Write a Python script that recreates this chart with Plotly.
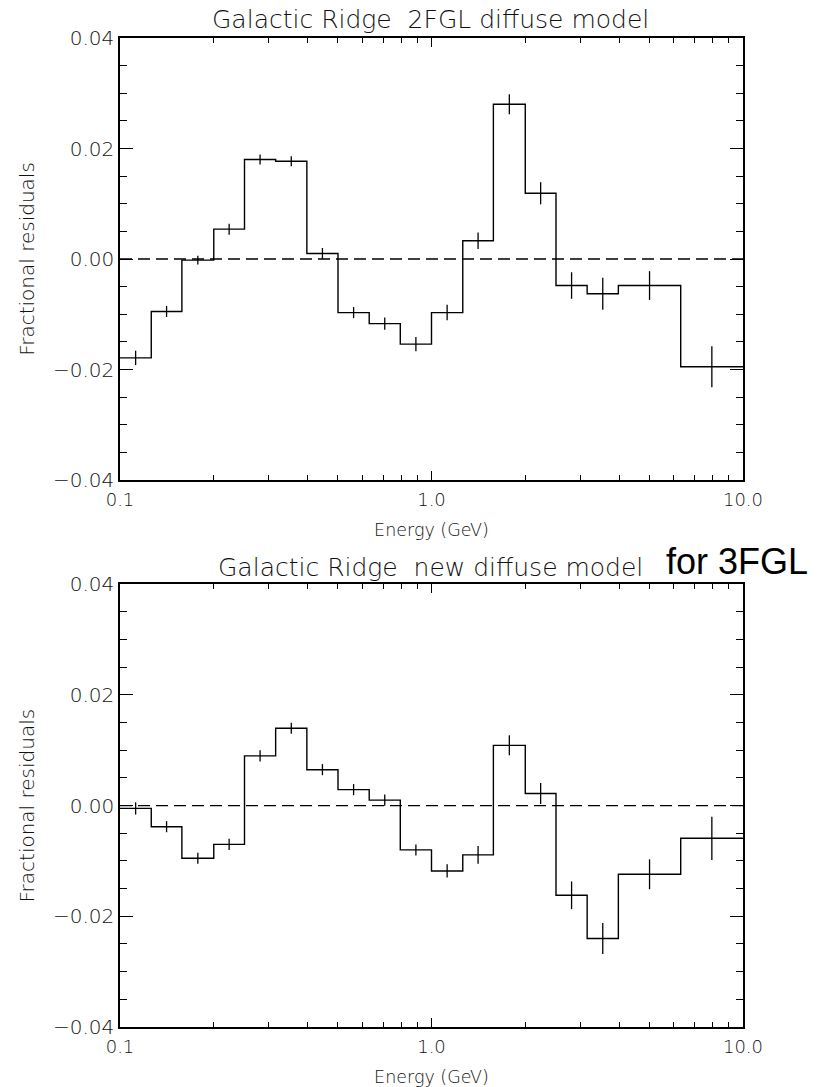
import numpy as np
import plotly.graph_objects as go

# ---------------- data ----------------
bin_edges_gev = [0.1, 0.126, 0.158, 0.2, 0.251, 0.316, 0.398, 0.501, 0.631, 0.794,
                 1.0, 1.26, 1.58, 2.0, 2.51, 3.16, 3.98, 6.31, 10.0]

top_residuals = [-0.0179, -0.0095, -0.0002, 0.0054, 0.0180, 0.0177, 0.0010, -0.0097,
                 -0.0117, -0.0154, -0.0097, 0.0033, 0.0280, 0.0119, -0.0048, -0.0063,
                 -0.0048, -0.0195]
top_errors = [0.0013, 0.0010, 0.0008, 0.0010, 0.0009, 0.0009, 0.0010, 0.0010, 0.0011,
              0.0013, 0.0014, 0.0015, 0.0018, 0.0020, 0.0024, 0.0029, 0.0026, 0.0037]

bottom_residuals = [-0.0005, -0.0038, -0.0095, -0.0070, 0.0090, 0.0140, 0.0065, 0.0029,
                    0.0010, -0.0080, -0.0118, -0.0089, 0.0109, 0.0022, -0.0162, -0.0240,
                    -0.0124, -0.0059]
bottom_errors = [0.0011, 0.0010, 0.0010, 0.0010, 0.0010, 0.0010, 0.0010, 0.0010, 0.0010,
                 0.0010, 0.0012, 0.0016, 0.0018, 0.0019, 0.0025, 0.0028, 0.0027, 0.0039]

x_tick_values = [0.1, 1.0, 10.0]
x_tick_labels = ["0.1", "1.0", "10.0"]
x_minor_values = [0.2, 0.3, 0.4, 0.5, 0.6, 0.7, 0.8, 0.9, 2, 3, 4, 5, 6, 7, 8, 9]
y_tick_values = [-0.04, -0.02, 0.0, 0.02, 0.04]
y_tick_labels = ["\u22120.04", "\u22120.02", "0.00", "0.02", "0.04"]
y_minor_values = [-0.035, -0.03, -0.025, -0.015, -0.01, -0.005,
                  0.005, 0.01, 0.015, 0.025, 0.03, 0.035]

title_top = "Galactic Ridge \u00a02FGL diffuse model"
title_bottom = "Galactic Ridge \u00a0new diffuse model"
title_extra = "for 3FGL"
x_title = "Energy (GeV)"
y_title = "Fractional residuals"

# ---------------- figure ----------------
W, H = 827, 1087
FONT = "DejaVu Sans"
TXT = "#111111"
centers = [float(np.sqrt(a * b)) for a, b in zip(bin_edges_gev[:-1], bin_edges_gev[1:])]

fig = go.Figure()


def add_panel(res, err, xa, ya):
    fig.add_trace(go.Scatter(
        x=bin_edges_gev, y=list(res) + [res[-1]], mode="lines", line_shape="hv",
        line=dict(color="black", width=1.4), xaxis=xa, yaxis=ya, showlegend=False,
        hoverinfo="skip"))
    fig.add_trace(go.Scatter(
        x=centers, y=res, mode="markers", marker=dict(size=0.1, color="black"),
        error_y=dict(type="data", array=err, visible=True, color="black",
                     thickness=1.3, width=0),
        xaxis=xa, yaxis=ya, showlegend=False))


add_panel(top_residuals, top_errors, "x", "y")
add_panel(bottom_residuals, bottom_errors, "x2", "y2")

x0p, x1p = 120 / W, 743 / W
top_dom = [1 - 480 / H, 1 - 38 / H]
bot_dom = [1 - 1027 / H, 1 - 584.3 / H]


def xaxis(anchor, domain):
    return dict(
        type="log", range=[-1, 1], domain=domain, anchor=anchor, automargin=False,
        tickmode="array", tickvals=x_tick_values, ticktext=x_tick_labels,
        ticks="inside", ticklen=9, tickwidth=1.3, tickcolor="black",
        showline=True, linecolor="black", linewidth=1.5, mirror="ticks",
        showgrid=False, zeroline=False, ticklabelstandoff=3,
        minor=dict(tickmode="array", tickvals=x_minor_values, ticks="inside",
                   ticklen=5, tickwidth=1.2, tickcolor="black", showgrid=False),
        tickfont=dict(family=FONT, size=18, color=TXT, weight=300),
        title=dict(text=x_title, font=dict(family=FONT, size=17.5, color=TXT, weight=300),
                   standoff=14),
    )


def yaxis(anchor, domain):
    return dict(
        range=[-0.04, 0.04], domain=domain, anchor=anchor, automargin=False,
        tickmode="array", tickvals=y_tick_values, ticktext=y_tick_labels,
        ticks="inside", ticklen=13, tickwidth=1.3, tickcolor="black",
        showline=True, linecolor="black", linewidth=1.5, mirror="ticks",
        showgrid=False, zeroline=False,
        minor=dict(tickmode="array", tickvals=y_minor_values, ticks="inside",
                   ticklen=7, tickwidth=1.2, tickcolor="black", showgrid=False),
        tickfont=dict(family=FONT, size=20, color=TXT, weight=300),
        title=dict(text=y_title, font=dict(family=FONT, size=20, color=TXT, weight=300),
                   standoff=13),
    )


fig.update_layout(
    template="none",
    width=W, height=H, margin=dict(l=0, r=0, t=0, b=0, pad=0),
    paper_bgcolor="white", plot_bgcolor="white",
    xaxis=xaxis("y", [x0p, x1p]), yaxis=yaxis("x", top_dom),
    xaxis2=xaxis("y2", [x0p, x1p]), yaxis2=yaxis("x2", bot_dom),
    showlegend=False,
)

for yref in ("y", "y2"):
    fig.add_shape(type="line", xref=yref.replace("y", "x") + " domain", yref=yref,
                  x0=0, x1=1, y0=0, y1=0,
                  line=dict(color="black", width=1.3, dash="12px,6px"))

fig.add_annotation(text=title_top, x=430 / W, y=1 - 19 / H, xref="paper", yref="paper",
                   xanchor="center", yanchor="middle", showarrow=False,
                   font=dict(family=FONT, size=25, color=TXT, weight=300))
fig.add_annotation(text=title_bottom, x=430 / W, y=1 - 567 / H, xref="paper", yref="paper",
                   xanchor="center", yanchor="middle", showarrow=False,
                   font=dict(family=FONT, size=25, color=TXT, weight=300))
fig.add_annotation(text=title_extra, x=664 / W, y=1 - 561 / H, xref="paper", yref="paper",
                   xanchor="left", yanchor="middle", showarrow=False,
                   font=dict(family="Liberation Sans", size=36, color="black"))

fig.write_html("out.html", config={"displayModeBar": False},
               post_script="document.body.style.margin='0px';")
